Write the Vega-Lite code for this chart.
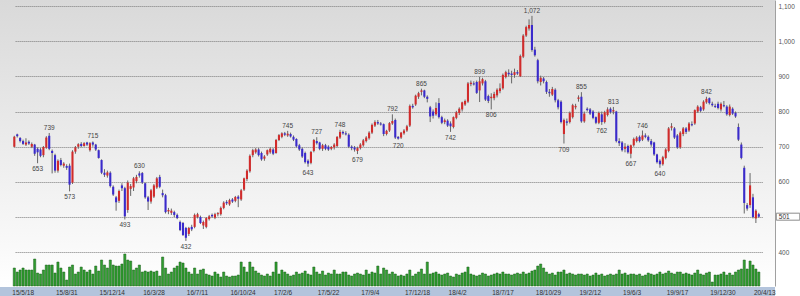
{
"$schema":"https://vega.github.io/schema/vega-lite/v6.json",
"background":"#ffffff",
"padding":0,
"autosize":{"type":"pad"},
"spacing":0,
"config":{"view":{"stroke":null},"font":"Liberation Sans"},
"data":{"values":[
{"d":"2015-05-18","o":700,"h":731,"l":697,"c":728,"v":180},
{"d":"2015-05-25","o":735,"h":737,"l":726,"c":730,"v":140},
{"d":"2015-06-01","o":725,"h":727,"l":712,"c":716,"v":160},
{"d":"2015-06-08","o":716,"h":720,"l":705,"c":708,"v":180},
{"d":"2015-06-15","o":706,"h":724,"l":702,"c":712,"v":160},
{"d":"2015-06-22","o":714,"h":718,"l":705,"c":709,"v":160},
{"d":"2015-06-29","o":700,"h":712,"l":696,"c":708,"v":160},
{"d":"2015-07-06","o":706,"h":708,"l":674,"c":680,"v":270},
{"d":"2015-07-13","o":694,"h":698,"l":653,"c":684,"v":130,"hl":"l"},
{"d":"2015-07-20","o":692,"h":696,"l":670,"c":674,"v":120},
{"d":"2015-07-27","o":676,"h":702,"l":670,"c":699,"v":160},
{"d":"2015-08-03","o":697,"h":730,"l":694,"c":726,"v":210},
{"d":"2015-08-10","o":731,"h":739,"l":690,"c":694,"v":210,"hl":"h"},
{"d":"2015-08-17","o":688,"h":692,"l":624,"c":682,"v":210},
{"d":"2015-08-24","o":676,"h":680,"l":626,"c":632,"v":130},
{"d":"2015-08-31","o":632,"h":664,"l":626,"c":660,"v":240},
{"d":"2015-09-07","o":662,"h":668,"l":644,"c":648,"v":180},
{"d":"2015-09-14","o":646,"h":656,"l":640,"c":652,"v":140},
{"d":"2015-09-21","o":645,"h":650,"l":634,"c":640,"v":60},
{"d":"2015-09-28","o":646,"h":652,"l":573,"c":592,"v":190,"hl":"l"},
{"d":"2015-10-05","o":598,"h":690,"l":594,"c":686,"v":210},
{"d":"2015-10-12","o":686,"h":702,"l":680,"c":698,"v":120},
{"d":"2015-10-19","o":700,"h":710,"l":694,"c":707,"v":140},
{"d":"2015-10-26","o":708,"h":713,"l":698,"c":702,"v":190},
{"d":"2015-11-02","o":702,"h":713,"l":700,"c":710,"v":160},
{"d":"2015-11-09","o":712,"h":714,"l":702,"c":706,"v":140},
{"d":"2015-11-16","o":690,"h":713,"l":686,"c":710,"v":160},
{"d":"2015-11-23","o":712,"h":715,"l":700,"c":706,"v":120,"hl":"h"},
{"d":"2015-11-30","o":706,"h":708,"l":688,"c":692,"v":200},
{"d":"2015-12-07","o":690,"h":692,"l":666,"c":668,"v":150},
{"d":"2015-12-14","o":662,"h":664,"l":622,"c":626,"v":260},
{"d":"2015-12-21","o":626,"h":636,"l":614,"c":620,"v":210},
{"d":"2015-12-28","o":618,"h":632,"l":612,"c":627,"v":180},
{"d":"2016-01-04","o":626,"h":630,"l":584,"c":588,"v":260},
{"d":"2016-01-11","o":586,"h":590,"l":560,"c":564,"v":210},
{"d":"2016-01-18","o":556,"h":560,"l":518,"c":542,"v":200},
{"d":"2016-01-25","o":546,"h":578,"l":540,"c":574,"v":200},
{"d":"2016-02-01","o":590,"h":596,"l":574,"c":582,"v":220},
{"d":"2016-02-08","o":582,"h":586,"l":493,"c":502,"v":320,"hl":"l"},
{"d":"2016-02-15","o":520,"h":604,"l":512,"c":598,"v":260},
{"d":"2016-02-22","o":580,"h":594,"l":560,"c":588,"v":250},
{"d":"2016-02-29","o":584,"h":614,"l":574,"c":610,"v":160},
{"d":"2016-03-07","o":602,"h":620,"l":596,"c":614,"v":180},
{"d":"2016-03-14","o":624,"h":630,"l":612,"c":618,"v":210,"hl":"h"},
{"d":"2016-03-21","o":625,"h":628,"l":594,"c":598,"v":140},
{"d":"2016-03-28","o":596,"h":598,"l":552,"c":556,"v":150},
{"d":"2016-04-04","o":556,"h":560,"l":520,"c":544,"v":140},
{"d":"2016-04-11","o":544,"h":580,"l":538,"c":576,"v":150},
{"d":"2016-04-18","o":558,"h":594,"l":554,"c":590,"v":140},
{"d":"2016-04-25","o":584,"h":614,"l":580,"c":610,"v":150},
{"d":"2016-05-02","o":614,"h":620,"l":582,"c":586,"v":100},
{"d":"2016-05-09","o":568,"h":578,"l":556,"c":562,"v":290},
{"d":"2016-05-16","o":562,"h":566,"l":510,"c":514,"v":180},
{"d":"2016-05-23","o":516,"h":526,"l":508,"c":520,"v":120},
{"d":"2016-05-30","o":512,"h":524,"l":506,"c":518,"v":140},
{"d":"2016-06-06","o":514,"h":518,"l":500,"c":506,"v":180},
{"d":"2016-06-13","o":506,"h":510,"l":494,"c":497,"v":200},
{"d":"2016-06-20","o":486,"h":490,"l":460,"c":463,"v":240},
{"d":"2016-06-27","o":483,"h":486,"l":446,"c":449,"v":230},
{"d":"2016-07-04","o":469,"h":472,"l":432,"c":441,"v":180,"hl":"l"},
{"d":"2016-07-11","o":452,"h":472,"l":446,"c":469,"v":140},
{"d":"2016-07-18","o":472,"h":478,"l":460,"c":465,"v":120},
{"d":"2016-07-25","o":472,"h":510,"l":468,"c":506,"v":180},
{"d":"2016-08-01","o":500,"h":512,"l":496,"c":508,"v":120},
{"d":"2016-08-08","o":500,"h":504,"l":480,"c":483,"v":160},
{"d":"2016-08-15","o":476,"h":490,"l":466,"c":486,"v":170},
{"d":"2016-08-22","o":472,"h":500,"l":468,"c":497,"v":120},
{"d":"2016-08-29","o":494,"h":506,"l":490,"c":502,"v":110},
{"d":"2016-09-05","o":506,"h":510,"l":498,"c":502,"v":100},
{"d":"2016-09-12","o":498,"h":512,"l":494,"c":508,"v":140},
{"d":"2016-09-19","o":508,"h":514,"l":502,"c":511,"v":120},
{"d":"2016-09-26","o":508,"h":530,"l":504,"c":526,"v":90},
{"d":"2016-10-03","o":526,"h":545,"l":522,"c":541,"v":140},
{"d":"2016-10-10","o":543,"h":548,"l":534,"c":539,"v":100},
{"d":"2016-10-17","o":536,"h":552,"l":532,"c":548,"v":90},
{"d":"2016-10-24","o":550,"h":554,"l":540,"c":544,"v":100},
{"d":"2016-10-31","o":546,"h":560,"l":542,"c":557,"v":100},
{"d":"2016-11-07","o":558,"h":562,"l":528,"c":552,"v":110},
{"d":"2016-11-14","o":550,"h":580,"l":546,"c":576,"v":240},
{"d":"2016-11-21","o":578,"h":612,"l":574,"c":610,"v":190},
{"d":"2016-11-28","o":608,"h":636,"l":602,"c":632,"v":140},
{"d":"2016-12-05","o":630,"h":678,"l":626,"c":674,"v":240},
{"d":"2016-12-12","o":676,"h":694,"l":670,"c":690,"v":190},
{"d":"2016-12-19","o":684,"h":696,"l":680,"c":692,"v":150},
{"d":"2016-12-26","o":692,"h":696,"l":672,"c":676,"v":130},
{"d":"2017-01-02","o":682,"h":686,"l":660,"c":664,"v":110},
{"d":"2017-01-09","o":666,"h":676,"l":660,"c":672,"v":100},
{"d":"2017-01-16","o":678,"h":692,"l":674,"c":690,"v":120},
{"d":"2017-01-23","o":684,"h":698,"l":680,"c":694,"v":100},
{"d":"2017-01-30","o":692,"h":696,"l":676,"c":680,"v":140},
{"d":"2017-02-06","o":682,"h":722,"l":680,"c":719,"v":240},
{"d":"2017-02-13","o":719,"h":736,"l":716,"c":733,"v":120},
{"d":"2017-02-20","o":728,"h":741,"l":724,"c":738,"v":160},
{"d":"2017-02-27","o":738,"h":742,"l":730,"c":734,"v":140},
{"d":"2017-03-06","o":732,"h":745,"l":728,"c":737,"v":120,"hl":"h"},
{"d":"2017-03-13","o":736,"h":740,"l":726,"c":729,"v":100},
{"d":"2017-03-20","o":728,"h":732,"l":716,"c":720,"v":110},
{"d":"2017-03-27","o":722,"h":724,"l":698,"c":701,"v":140},
{"d":"2017-04-03","o":704,"h":708,"l":688,"c":692,"v":120},
{"d":"2017-04-10","o":694,"h":698,"l":668,"c":672,"v":130},
{"d":"2017-04-17","o":682,"h":686,"l":652,"c":656,"v":150},
{"d":"2017-04-24","o":660,"h":664,"l":643,"c":652,"v":120,"hl":"l"},
{"d":"2017-05-01","o":654,"h":688,"l":650,"c":685,"v":110},
{"d":"2017-05-08","o":688,"h":722,"l":684,"c":719,"v":190},
{"d":"2017-05-15","o":716,"h":727,"l":706,"c":710,"v":140,"hl":"h"},
{"d":"2017-05-22","o":712,"h":714,"l":690,"c":694,"v":120},
{"d":"2017-05-29","o":694,"h":708,"l":688,"c":704,"v":150},
{"d":"2017-06-05","o":704,"h":708,"l":690,"c":694,"v":110},
{"d":"2017-06-12","o":700,"h":704,"l":688,"c":692,"v":130},
{"d":"2017-06-19","o":694,"h":702,"l":690,"c":699,"v":120},
{"d":"2017-06-26","o":698,"h":710,"l":692,"c":706,"v":160},
{"d":"2017-07-03","o":702,"h":730,"l":698,"c":728,"v":120},
{"d":"2017-07-10","o":726,"h":748,"l":722,"c":742,"v":120,"hl":"h"},
{"d":"2017-07-17","o":742,"h":746,"l":734,"c":738,"v":140},
{"d":"2017-07-24","o":738,"h":744,"l":732,"c":735,"v":140},
{"d":"2017-07-31","o":734,"h":738,"l":696,"c":700,"v":110},
{"d":"2017-08-07","o":700,"h":704,"l":690,"c":696,"v":100},
{"d":"2017-08-14","o":698,"h":702,"l":686,"c":692,"v":120},
{"d":"2017-08-21","o":688,"h":700,"l":679,"c":696,"v":130,"hl":"l"},
{"d":"2017-08-28","o":696,"h":710,"l":692,"c":706,"v":120},
{"d":"2017-09-04","o":704,"h":722,"l":700,"c":718,"v":110},
{"d":"2017-09-11","o":716,"h":730,"l":712,"c":726,"v":160},
{"d":"2017-09-18","o":724,"h":744,"l":720,"c":740,"v":120},
{"d":"2017-09-25","o":740,"h":766,"l":736,"c":762,"v":140},
{"d":"2017-10-02","o":760,"h":775,"l":756,"c":770,"v":130},
{"d":"2017-10-09","o":770,"h":776,"l":762,"c":766,"v":200},
{"d":"2017-10-16","o":766,"h":770,"l":760,"c":763,"v":120},
{"d":"2017-10-23","o":764,"h":766,"l":730,"c":736,"v":180},
{"d":"2017-10-30","o":736,"h":748,"l":732,"c":745,"v":160},
{"d":"2017-11-06","o":746,"h":770,"l":742,"c":767,"v":120},
{"d":"2017-11-13","o":766,"h":792,"l":762,"c":773,"v":140,"hl":"h"},
{"d":"2017-11-20","o":776,"h":780,"l":722,"c":726,"v":120},
{"d":"2017-11-27","o":728,"h":730,"l":720,"c":723,"v":100,"hl":"l"},
{"d":"2017-12-04","o":726,"h":742,"l":722,"c":740,"v":110},
{"d":"2017-12-11","o":738,"h":750,"l":734,"c":746,"v":100},
{"d":"2017-12-18","o":746,"h":762,"l":742,"c":758,"v":120},
{"d":"2017-12-25","o":760,"h":820,"l":756,"c":816,"v":160},
{"d":"2018-01-01","o":816,"h":822,"l":808,"c":812,"v":100},
{"d":"2018-01-08","o":820,"h":848,"l":816,"c":845,"v":120},
{"d":"2018-01-15","o":842,"h":856,"l":836,"c":852,"v":140},
{"d":"2018-01-22","o":856,"h":865,"l":846,"c":860,"v":170,"hl":"h"},
{"d":"2018-01-29","o":860,"h":862,"l":838,"c":842,"v":120},
{"d":"2018-02-05","o":842,"h":846,"l":826,"c":836,"v":240},
{"d":"2018-02-12","o":812,"h":816,"l":770,"c":786,"v":120},
{"d":"2018-02-19","o":800,"h":806,"l":780,"c":788,"v":130},
{"d":"2018-02-26","o":792,"h":826,"l":788,"c":810,"v":140},
{"d":"2018-03-05","o":824,"h":838,"l":780,"c":784,"v":120},
{"d":"2018-03-12","o":784,"h":788,"l":764,"c":768,"v":110},
{"d":"2018-03-19","o":770,"h":780,"l":764,"c":775,"v":120},
{"d":"2018-03-26","o":774,"h":778,"l":756,"c":760,"v":130},
{"d":"2018-04-02","o":766,"h":772,"l":742,"c":758,"v":100,"hl":"l"},
{"d":"2018-04-09","o":756,"h":786,"l":752,"c":784,"v":90},
{"d":"2018-04-16","o":782,"h":802,"l":778,"c":798,"v":120},
{"d":"2018-04-23","o":796,"h":812,"l":790,"c":808,"v":110},
{"d":"2018-04-30","o":806,"h":828,"l":800,"c":826,"v":130},
{"d":"2018-05-07","o":820,"h":834,"l":816,"c":830,"v":140},
{"d":"2018-05-14","o":828,"h":884,"l":824,"c":880,"v":190},
{"d":"2018-05-21","o":878,"h":888,"l":872,"c":882,"v":120},
{"d":"2018-05-28","o":880,"h":886,"l":874,"c":877,"v":110},
{"d":"2018-06-04","o":884,"h":888,"l":850,"c":853,"v":100},
{"d":"2018-06-11","o":860,"h":899,"l":827,"c":886,"v":110,"hl":"h"},
{"d":"2018-06-18","o":880,"h":896,"l":874,"c":892,"v":130},
{"d":"2018-06-25","o":886,"h":890,"l":830,"c":834,"v":120},
{"d":"2018-07-02","o":844,"h":848,"l":824,"c":830,"v":100},
{"d":"2018-07-09","o":838,"h":852,"l":806,"c":842,"v":110,"hl":"l"},
{"d":"2018-07-17","o":838,"h":856,"l":832,"c":850,"v":120},
{"d":"2018-07-23","o":846,"h":866,"l":840,"c":862,"v":130},
{"d":"2018-07-30","o":858,"h":880,"l":852,"c":866,"v":120},
{"d":"2018-08-06","o":866,"h":908,"l":862,"c":904,"v":140},
{"d":"2018-08-13","o":898,"h":916,"l":894,"c":912,"v":120},
{"d":"2018-08-20","o":910,"h":920,"l":900,"c":906,"v":120},
{"d":"2018-08-27","o":908,"h":916,"l":880,"c":904,"v":110},
{"d":"2018-09-03","o":904,"h":922,"l":896,"c":912,"v":120},
{"d":"2018-09-10","o":912,"h":918,"l":904,"c":908,"v":130},
{"d":"2018-09-17","o":900,"h":962,"l":898,"c":958,"v":120},
{"d":"2018-09-24","o":956,"h":1020,"l":952,"c":1016,"v":140},
{"d":"2018-10-01","o":1016,"h":1044,"l":1012,"c":1040,"v":120},
{"d":"2018-10-08","o":1036,"h":1062,"l":1030,"c":1046,"v":130},
{"d":"2018-10-15","o":1046,"h":1072,"l":970,"c":975,"v":150,"hl":"h"},
{"d":"2018-10-22","o":976,"h":984,"l":956,"c":960,"v":160},
{"d":"2018-10-29","o":946,"h":950,"l":880,"c":886,"v":200},
{"d":"2018-11-05","o":884,"h":902,"l":874,"c":896,"v":220},
{"d":"2018-11-12","o":894,"h":898,"l":880,"c":886,"v":180},
{"d":"2018-11-19","o":884,"h":888,"l":850,"c":856,"v":140},
{"d":"2018-11-26","o":856,"h":864,"l":842,"c":852,"v":120},
{"d":"2018-12-03","o":848,"h":870,"l":844,"c":864,"v":130},
{"d":"2018-12-10","o":862,"h":866,"l":826,"c":832,"v":110},
{"d":"2018-12-17","o":832,"h":836,"l":806,"c":812,"v":140},
{"d":"2018-12-24","o":828,"h":832,"l":766,"c":770,"v":140},
{"d":"2018-12-31","o":736,"h":780,"l":709,"c":776,"v":160,"hl":"l"},
{"d":"2019-01-07","o":772,"h":780,"l":760,"c":768,"v":120},
{"d":"2019-01-14","o":770,"h":800,"l":766,"c":796,"v":130},
{"d":"2019-01-21","o":784,"h":822,"l":780,"c":818,"v":120},
{"d":"2019-01-28","o":812,"h":822,"l":806,"c":816,"v":110},
{"d":"2019-02-04","o":836,"h":846,"l":828,"c":840,"v":120},
{"d":"2019-02-12","o":842,"h":855,"l":768,"c":772,"v":120,"hl":"h"},
{"d":"2019-02-18","o":772,"h":800,"l":768,"c":794,"v":110},
{"d":"2019-02-25","o":808,"h":812,"l":800,"c":804,"v":120},
{"d":"2019-03-04","o":806,"h":810,"l":790,"c":794,"v":100},
{"d":"2019-03-11","o":800,"h":804,"l":778,"c":782,"v":110},
{"d":"2019-03-18","o":784,"h":786,"l":764,"c":768,"v":130},
{"d":"2019-03-25","o":768,"h":800,"l":764,"c":796,"v":110},
{"d":"2019-04-01","o":792,"h":800,"l":762,"c":770,"v":120,"hl":"l"},
{"d":"2019-04-08","o":770,"h":802,"l":766,"c":798,"v":100},
{"d":"2019-04-15","o":790,"h":812,"l":786,"c":806,"v":110},
{"d":"2019-04-22","o":808,"h":812,"l":794,"c":798,"v":120},
{"d":"2019-05-06","o":800,"h":813,"l":792,"c":804,"v":110,"hl":"h"},
{"d":"2019-05-13","o":800,"h":802,"l":712,"c":716,"v":120},
{"d":"2019-05-20","o":716,"h":724,"l":702,"c":710,"v":160},
{"d":"2019-05-27","o":712,"h":716,"l":686,"c":690,"v":120},
{"d":"2019-06-03","o":694,"h":710,"l":684,"c":700,"v":130},
{"d":"2019-06-10","o":702,"h":706,"l":680,"c":684,"v":110},
{"d":"2019-06-17","o":680,"h":706,"l":667,"c":704,"v":120,"hl":"l"},
{"d":"2019-06-24","o":704,"h":726,"l":700,"c":722,"v":120},
{"d":"2019-07-01","o":716,"h":730,"l":712,"c":726,"v":110},
{"d":"2019-07-08","o":728,"h":732,"l":712,"c":716,"v":120},
{"d":"2019-07-15","o":720,"h":746,"l":716,"c":732,"v":100,"hl":"h"},
{"d":"2019-07-22","o":732,"h":738,"l":724,"c":728,"v":110},
{"d":"2019-07-29","o":728,"h":732,"l":714,"c":718,"v":130},
{"d":"2019-08-05","o":716,"h":722,"l":700,"c":706,"v":120},
{"d":"2019-08-12","o":712,"h":714,"l":674,"c":678,"v":110},
{"d":"2019-08-19","o":678,"h":680,"l":652,"c":656,"v":120},
{"d":"2019-08-26","o":660,"h":664,"l":640,"c":650,"v":140,"hl":"l"},
{"d":"2019-09-02","o":650,"h":674,"l":646,"c":670,"v":120},
{"d":"2019-09-09","o":668,"h":696,"l":664,"c":692,"v":130},
{"d":"2019-09-17","o":688,"h":756,"l":684,"c":752,"v":150},
{"d":"2019-09-23","o":754,"h":767,"l":746,"c":758,"v":130},
{"d":"2019-09-30","o":752,"h":756,"l":722,"c":726,"v":120},
{"d":"2019-10-07","o":732,"h":736,"l":694,"c":698,"v":140},
{"d":"2019-10-14","o":698,"h":744,"l":694,"c":740,"v":140},
{"d":"2019-10-21","o":736,"h":756,"l":730,"c":752,"v":120},
{"d":"2019-10-28","o":752,"h":756,"l":736,"c":742,"v":130},
{"d":"2019-11-04","o":746,"h":770,"l":742,"c":766,"v":120},
{"d":"2019-11-11","o":764,"h":772,"l":758,"c":761,"v":110},
{"d":"2019-11-18","o":766,"h":806,"l":762,"c":804,"v":130},
{"d":"2019-11-25","o":800,"h":818,"l":796,"c":814,"v":160},
{"d":"2019-12-02","o":812,"h":816,"l":798,"c":802,"v":120},
{"d":"2019-12-09","o":806,"h":832,"l":802,"c":828,"v":110},
{"d":"2019-12-16","o":826,"h":842,"l":822,"c":836,"v":130,"hl":"h"},
{"d":"2019-12-23","o":838,"h":840,"l":820,"c":824,"v":140},
{"d":"2019-12-30","o":822,"h":828,"l":814,"c":818,"v":40},
{"d":"2020-01-06","o":816,"h":822,"l":810,"c":813,"v":110},
{"d":"2020-01-13","o":822,"h":828,"l":806,"c":810,"v":110},
{"d":"2020-01-20","o":806,"h":826,"l":800,"c":822,"v":120},
{"d":"2020-01-27","o":818,"h":830,"l":812,"c":815,"v":140},
{"d":"2020-02-03","o":814,"h":818,"l":788,"c":792,"v":110},
{"d":"2020-02-10","o":790,"h":820,"l":786,"c":814,"v":130},
{"d":"2020-02-17","o":808,"h":812,"l":790,"c":794,"v":110},
{"d":"2020-02-24","o":796,"h":800,"l":782,"c":786,"v":140},
{"d":"2020-03-02","o":756,"h":766,"l":716,"c":720,"v":160},
{"d":"2020-03-09","o":706,"h":712,"l":664,"c":668,"v":170},
{"d":"2020-03-16","o":640,"h":646,"l":510,"c":540,"v":260},
{"d":"2020-03-23","o":534,"h":540,"l":518,"c":524,"v":170},
{"d":"2020-03-30","o":534,"h":625,"l":526,"c":590,"v":250},
{"d":"2020-04-06","o":556,"h":566,"l":496,"c":500,"v":210},
{"d":"2020-04-13","o":496,"h":522,"l":483,"c":518,"v":170},
{"d":"2020-04-20","o":508,"h":512,"l":498,"c":501,"v":140}
]},
"vconcat":[
{
"width":775,"height":286,
"view":{"stroke":null,"fill":{"gradient":"linear","x1":0,"y1":0,"x2":0,"y2":1,"stops":[{"offset":0,"color":"#d9d9d9"},{"offset":0.86,"color":"#f9f9f9"},{"offset":1,"color":"#ffffff"}]}},
"resolve":{"scale":{"y":"independent"}},
"layer":[
{"layer":[
{"mark":{"type":"rule","color":"#666666","strokeWidth":1},
 "encoding":{
  "x":{"field":"d","type":"ordinal","scale":{"type":"band","paddingInner":0,"paddingOuter":0,"range":[12.87,760.24]},"axis":null},
  "y":{"field":"l","type":"quantitative","title":null,"scale":{"domain":[303.9,1117.1],"nice":false,"zero":false},
       "axis":{"orient":"right","values":[400,500,600,700,800,900,1000,1100],"labelExpr":"datum.value == 500 ? '' : format(datum.value, ',')","title":null,"grid":true,"gridColor":"#7a7a7a","gridDash":[1,1],"gridWidth":1,"ticks":false,"domain":true,"domainColor":"#a0a0a0","domainWidth":1,"labelColor":"#555555","labelFontSize":6.5,"labelPadding":3,"labelBaseline":"middle","labelFont":"Liberation Sans"}},
  "y2":{"field":"h"}}},
{"mark":{"type":"bar","width":{"band":0.72}},
 "encoding":{
  "x":{"field":"d","type":"ordinal","scale":{"type":"band","paddingInner":0,"paddingOuter":0,"range":[12.87,760.24]},"axis":null},
  "y":{"field":"o","type":"quantitative","title":null},
  "y2":{"field":"c"},
  "color":{"condition":{"test":"datum.c >= datum.o","value":"#d12b2b"},"value":"#3a2acc"}}},
{"transform":[{"filter":"datum.hl == 'h'"}],
 "mark":{"type":"text","fontSize":6.5,"color":"#444444","baseline":"alphabetic","dy":-3},
 "encoding":{
  "x":{"field":"d","type":"ordinal","scale":{"type":"band","paddingInner":0,"paddingOuter":0,"range":[12.87,760.24]},"axis":null},
  "y":{"field":"h","type":"quantitative","title":null},
  "text":{"field":"h","type":"quantitative","format":","}}},
{"transform":[{"filter":"datum.hl == 'l'"}],
 "mark":{"type":"text","fontSize":6.5,"color":"#444444","baseline":"top","dy":3},
 "encoding":{
  "x":{"field":"d","type":"ordinal","scale":{"type":"band","paddingInner":0,"paddingOuter":0,"range":[12.87,760.24]},"axis":null},
  "y":{"field":"l","type":"quantitative","title":null},
  "text":{"field":"l","type":"quantitative","format":","}}},
{"transform":[{"filter":"datum.d == '2020-04-20'"}],
 "mark":{"type":"point","shape":"M17.5,-3.5H41V3.5H17.5Z","size":4,"filled":true,"fill":"#ffffff","stroke":"#8c8c8c","strokeWidth":1,"opacity":1,"fillOpacity":1,"strokeOpacity":1},
 "encoding":{
  "x":{"field":"d","type":"ordinal","scale":{"type":"band","paddingInner":0,"paddingOuter":0,"range":[12.87,760.24]},"axis":null},
  "y":{"field":"c","type":"quantitative","title":null}}},
{"transform":[{"filter":"datum.d == '2020-04-20'"}],
 "mark":{"type":"text","fontSize":6.5,"color":"#333333","align":"left","baseline":"middle","dx":20},
 "encoding":{
  "x":{"field":"d","type":"ordinal","scale":{"type":"band","paddingInner":0,"paddingOuter":0,"range":[12.87,760.24]},"axis":null},
  "y":{"field":"c","type":"quantitative","title":null},
  "text":{"field":"c","type":"quantitative"}}}
]},
{"mark":{"type":"bar","width":{"band":0.75},"fill":"#2f9e2f","stroke":"#1d5e1d","strokeWidth":0.5},
 "encoding":{
  "x":{"field":"d","type":"ordinal","scale":{"type":"band","paddingInner":0,"paddingOuter":0,"range":[12.87,760.24]},"axis":null},
  "y":{"field":"v","type":"quantitative","title":null,"scale":{"domain":[0,2860],"nice":false},"axis":null}}}
]
},
{
"width":775,"height":10,
"view":{"stroke":null,"fill":"#b3c4dc"},
"mark":{"type":"point","opacity":0},
"encoding":{
 "x":{"field":"d","type":"ordinal","scale":{"type":"band","paddingInner":0,"paddingOuter":0,"range":[12.87,760.24]},
  "axis":{"orient":"bottom","values":["2015-05-18","2015-08-31","2015-12-14","2016-03-28","2016-07-11","2016-10-24","2017-02-06","2017-05-22","2017-09-04","2017-12-18","2018-04-02","2018-07-17","2018-10-29","2019-02-12","2019-06-03","2019-09-17","2019-12-30","2020-04-13"],
   "labelExpr":"slice(datum.value,2,4) + '/' + toNumber(slice(datum.value,5,7)) + '/' + toNumber(slice(datum.value,8,10))",
   "labelAlign":"left","labelOffset":-2,"labelBaseline":"middle","labelPadding":-5,"tickSize":0,"ticks":false,"domain":false,"grid":false,"title":null,
   "labelColor":"#333333","labelFontSize":6.5,"labelOverlap":false,"labelAngle":0,"labelFont":"Liberation Sans"}}}
}
]
}
